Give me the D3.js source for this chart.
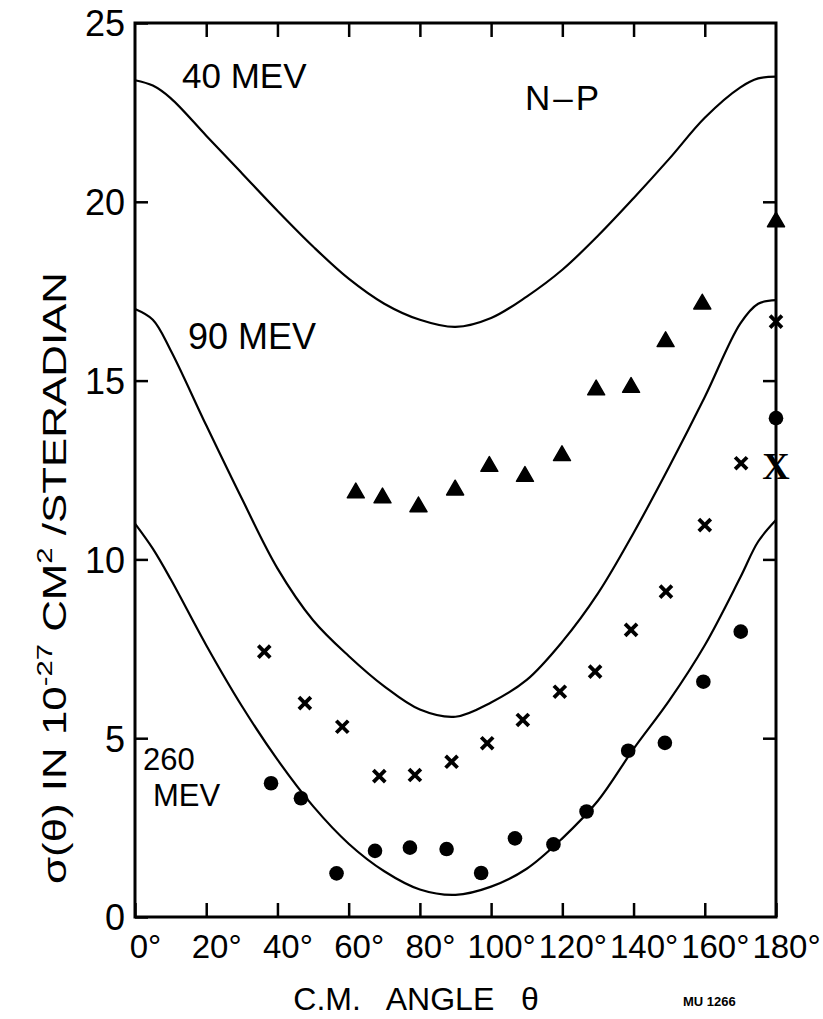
<!DOCTYPE html>
<html>
<head>
<meta charset="utf-8">
<script src="https://cdn.jsdelivr.net/npm/d3@7"></script>
<style>
  html, body { margin: 0; padding: 0; background: #fff; }
  text { font-family: 'Liberation Sans', Arial, sans-serif; fill: #000; }
</style>
</head>
<body>
<div id="chart"></div>
<script>
const curveAngles = [0, 5, 10, 20, 30, 40, 50, 60, 70, 80, 90, 100, 110, 120, 130, 140, 150, 160, 170, 175, 180];
const curve40 = [23.4, 23.25, 22.9, 21.85, 20.8, 19.75, 18.75, 17.85, 17.15, 16.7, 16.5, 16.75, 17.35, 18.1, 19.05, 20.1, 21.2, 22.35, 23.2, 23.45, 23.5];
const curve90 = [17.0, 16.7, 15.85, 13.75, 11.7, 9.75, 8.3, 7.3, 6.45, 5.8, 5.6, 6.0, 6.63, 7.7, 9.05, 10.74, 12.59, 14.54, 16.6, 17.15, 17.25];
const curve260 = [11.0, 10.3, 9.45, 7.6, 5.9, 4.4, 3.1, 2.05, 1.28, 0.77, 0.62, 0.85, 1.35, 2.2, 3.25, 4.7, 6.05, 7.6, 9.5, 10.5, 11.1];

// measured points
const triAngles = [62, 69.5, 79.6, 89.9, 99.5, 109.5, 119.9, 129.5, 139.3, 149, 159.3, 180];
const triValues = [11.86, 11.72, 11.47, 11.94, 12.6, 12.32, 12.9, 14.74, 14.81, 16.09, 17.14, 19.44];
const crossAngles = [36.3, 47.7, 58.2, 68.6, 78.6, 88.9, 98.9, 108.9, 119.3, 129.2, 139.3, 149.1, 160, 170.2, 180];
const crossValues = [7.42, 5.98, 5.32, 3.94, 3.97, 4.34, 4.86, 5.51, 6.3, 6.86, 8.03, 9.1, 10.96, 12.69, 16.65];
const bigXAngles = [180];
const bigXValues = [12.59];
const dotAngles = [38.2, 46.6, 56.6, 67.4, 77.2, 87.5, 97.2, 106.7, 117.5, 126.8, 138.5, 148.8, 159.6, 170.1, 180];
const dotValues = [3.74, 3.32, 1.22, 1.85, 1.94, 1.9, 1.23, 2.2, 2.03, 2.95, 4.65, 4.87, 6.58, 7.98, 13.95];

const xTicks = [0, 20, 40, 60, 80, 100, 120, 140, 160, 180];
const yTicks = [0, 5, 10, 15, 20, 25];

const W = 823, H = 1019;
const margin = { top: 23, right: 47, bottom: 102, left: 135 };
const width = W - margin.left - margin.right;
const height = H - margin.top - margin.bottom;

const svg = d3.select('#chart').append('svg')
  .attr('width', W)
  .attr('height', H)
  .style('display', 'block');

svg.append('rect').attr('width', W).attr('height', H).attr('fill', '#fff');

const g = svg.append('g')
  .attr('transform', `translate(${margin.left},${margin.top})`);

const x = d3.scaleLinear().domain([0, 180]).range([0, width]);
const y = d3.scaleLinear().domain([0, 25]).range([height, 0]);

// left axis with labels, ticks pointing in
g.append('g')
  .call(d3.axisLeft(y).tickValues(yTicks).tickSize(-13).tickPadding(10))
  .attr('font-family', null)
  .attr('font-size', 36)
  .call((a) => a.select('.domain').remove())
  .call((a) => a.selectAll('line').attr('stroke-width', 2.5))
  .call((a) => a.selectAll('text').attr('dy', '0.36em'));

// right axis, ticks only
g.append('g')
  .attr('transform', `translate(${width},0)`)
  .call(d3.axisRight(y).tickValues([5, 10, 15, 20]).tickSize(-13).tickFormat(''))
  .call((a) => a.select('.domain').remove())
  .call((a) => a.selectAll('line').attr('stroke-width', 2.5));

// bottom axis with degree labels
g.append('g')
  .attr('transform', `translate(0,${height})`)
  .call(d3.axisBottom(x).tickValues(xTicks).tickSize(-14).tickPadding(18).tickFormat((d) => d + '°'))
  .attr('font-family', null)
  .attr('font-size', 33)
  .call((a) => a.select('.domain').remove())
  .call((a) => a.selectAll('line').attr('stroke-width', 2.5))
  .call((a) => a.selectAll('text').attr('dx', 10));

// top axis, ticks only
g.append('g')
  .call(d3.axisTop(x).tickValues(xTicks.slice(1, -1)).tickSize(-14).tickFormat(''))
  .call((a) => a.select('.domain').remove())
  .call((a) => a.selectAll('line').attr('stroke-width', 2.5));

// frame
g.append('rect')
  .attr('width', width)
  .attr('height', height)
  .attr('fill', 'none')
  .attr('stroke', '#000')
  .attr('stroke-width', 3);

// curves
const line = d3.line()
  .x((d) => x(d[0]))
  .y((d) => y(d[1]))
  .curve(d3.curveCatmullRom.alpha(0.5));

[curve40, curve90, curve260].forEach((vals) => {
  g.append('path')
    .datum(curveAngles.map((a, i) => [a, vals[i]]))
    .attr('fill', 'none')
    .attr('stroke', '#000')
    .attr('stroke-width', 2.2)
    .attr('d', line);
});

// triangles
g.append('g').selectAll('path')
  .data(triAngles.map((a, i) => [a, triValues[i]]))
  .join('path')
  .attr('transform', (d) => `translate(${x(d[0])},${y(d[1])})`)
  .attr('d', d3.symbol(d3.symbolTriangle, 125))
  .attr('fill', '#000')
  .attr('stroke', '#000')
  .attr('stroke-width', 1.5)
  .attr('stroke-linejoin', 'round');

// crosses
g.append('g').selectAll('path')
  .data(crossAngles.map((a, i) => [a, crossValues[i]]))
  .join('path')
  .attr('transform', (d) => `translate(${x(d[0])},${y(d[1])})`)
  .attr('d', d3.symbol(d3.symbolX, 95))
  .attr('fill', 'none')
  .attr('stroke', '#000')
  .attr('stroke-width', 3.8);

// big serif X at 180
g.append('g').selectAll('text')
  .data(bigXAngles.map((a, i) => [a, bigXValues[i]]))
  .join('text')
  .attr('x', (d) => x(d[0]))
  .attr('y', (d) => y(d[1]))
  .attr('dy', '0.33em')
  .attr('text-anchor', 'middle')
  .style('font-family', "'Liberation Serif', 'Times New Roman', serif")
  .style('font-size', '38px')
  .style('font-weight', 'bold')
  .text('X');

// filled circles
g.append('g').selectAll('circle')
  .data(dotAngles.map((a, i) => [a, dotValues[i]]))
  .join('circle')
  .attr('cx', (d) => x(d[0]))
  .attr('cy', (d) => y(d[1]))
  .attr('r', 7.3)
  .attr('fill', '#000');

// curve labels
const label = (txt, px, py, size) => svg.append('text')
  .attr('x', px).attr('y', py)
  .style('font-size', size + 'px')
  .text(txt);

label('40 MEV', 182, 88, 35);
label('N–P', 525, 110, 35).attr('letter-spacing', 3);
label('90 MEV', 188, 349, 36);
label('260', 143, 770, 31);
label('MEV', 153, 806, 31);

// y axis title
const yt = svg.append('text')
  .attr('transform', 'translate(66,578) rotate(-90)')
  .attr('text-anchor', 'middle')
  .attr('textLength', 612)
  .attr('lengthAdjust', 'spacingAndGlyphs')
  .style('font-size', '33px');
yt.append('tspan').text('σ(θ) IN 10');
yt.append('tspan').attr('dy', -14).style('font-size', '22px').text('-27');
yt.append('tspan').attr('dy', 14).text(' CM');
yt.append('tspan').attr('dy', -14).style('font-size', '22px').text('2');
yt.append('tspan').attr('dy', 14).text(' /STERADIAN');

// x axis title
svg.append('text')
  .attr('x', 416).attr('y', 1010)
  .attr('text-anchor', 'middle')
  .style('font-size', '32px')
  .style('white-space', 'pre')
  .text('C.M.   ANGLE   θ');

svg.append('text')
  .attr('x', 683).attr('y', 1006)
  .style('font-size', '13px')
  .style('font-weight', 'bold')
  .text('MU 1266');
</script>
</body>
</html>
